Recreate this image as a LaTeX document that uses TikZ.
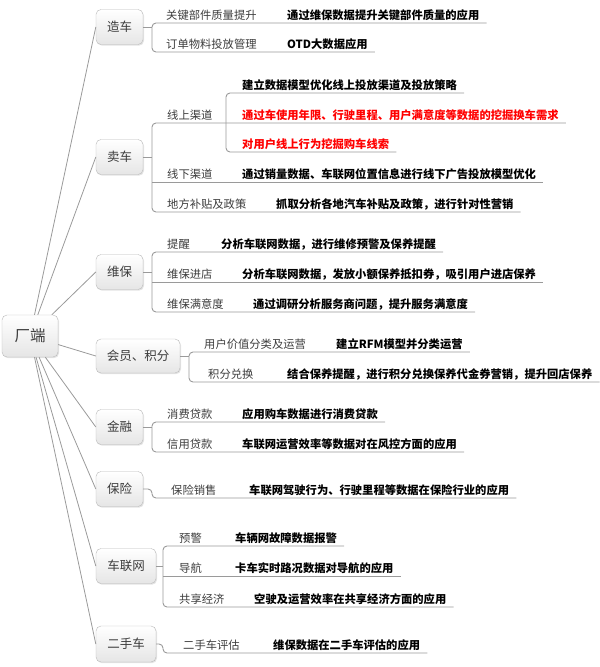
\documentclass[tikz,border=0pt]{standalone}
\usepackage{fontspec}
\setmainfont{Noto Sans CJK SC}
\usetikzlibrary{shadows,calc}
\definecolor{linec}{HTML}{9A9A9A}
\definecolor{labc}{HTML}{3C3C3C}
\definecolor{redc}{HTML}{FF0000}
\begin{document}
\begin{tikzpicture}[x=1pt,y=-1pt,
  topic/.style={draw=gray!55, rounded corners=5pt, top color=white, bottom color=gray!20,
    drop shadow={opacity=0.22,shadow xshift=1pt,shadow yshift=-1.2pt},
    text=labc, font=\fontsize{12.5}{14}\selectfont, inner sep=0pt},
  lab/.style={anchor=west, inner sep=0pt, text=labc, font=\fontsize{11.3}{13}\selectfont, text height=9.7pt, text depth=1.3pt},
  leaf/.style={anchor=west, inner sep=0pt, text=black, font=\fontsize{11.3}{13}\selectfont\bfseries, text height=9.7pt, text depth=1.3pt},
  hot/.style={leaf, text=redc},
  conn/.style={draw=linec, line width=0.8pt},
  ul/.style={draw=linec, line width=0.9pt, rounded corners=4pt},
]
\useasboundingbox (0,0) rectangle (600,667);

% root and main topics
\node[topic, minimum width=56pt, minimum height=42pt, font=\fontsize{15.5}{17}\selectfont] (root) at (30,336) {厂端};
\node[topic, minimum width=47pt, minimum height=35pt] (zc) at (119.5,27) {造车};
\node[topic, minimum width=47pt, minimum height=35pt] (mc) at (119.5,157) {卖车};
\node[topic, minimum width=47pt, minimum height=35pt] (wb) at (119.5,272) {维保};
\node[topic, minimum width=84pt, minimum height=34pt] (hy) at (138,356) {会员、积分};
\node[topic, minimum width=47pt, minimum height=35pt] (jr) at (119.5,427) {金融};
\node[topic, minimum width=47pt, minimum height=35pt] (bx) at (119.5,489) {保险};
\node[topic, minimum width=60pt, minimum height=35pt] (cl) at (126,566) {车联网};
\node[topic, minimum width=60pt, minimum height=36pt] (es) at (126,644) {二手车};

\foreach \t in {zc,mc,wb,hy,jr,bx,cl,es} \draw[conn] (root) -- (\t.west);

% 造车
\node[lab] (l11) at (166,15) {关键部件质量提升};
\node[leaf] (f11) at (287,15) {通过维保数据提升关键部件质量的应用};
\node[lab] (l12) at (166,44) {订单物料投放管理};
\node[leaf] (f12) at (287,44) {OTD大数据应用};
\draw[conn] (zc.east) -- (152,27);
\draw[ul] ($(f11.east)+(7,8)$) -- (152,23) -- (152,52) -- ($(f12.east)+(7,8)$);

% 卖车
\node[lab] (l21) at (167,115) {线上渠道};
\node[leaf] (f2a) at (242,85) {建立数据模型优化线上投放渠道及投放策略};
\node[hot] (f2b) at (242,115) {通过车使用年限、行驶里程、用户满意度等数据的挖掘换车需求};
\node[hot] (f2c) at (242,144) {对用户线上行为挖掘购车线索};
\node[lab] (l22) at (167,174) {线下渠道};
\node[leaf] (f22) at (242,174) {通过销量数据、车联网位置信息进行线下广告投放模型优化};
\node[lab] (l23) at (167,204) {地方补贴及政策};
\node[leaf] (f23) at (276,204) {抓取分析各地汽车补贴及政策，进行针对性营销};
\draw[conn] (mc.east) -- (152,157);
\draw[ul] ($(f23.east)+(7,8)$) -- (152,212) -- (152,123) -- ($(f2b.east)+(7,8)$);
\draw[ul] (152,182) -- ($(f22.east)+(7,8)$);
\draw[ul] ($(f2a.east)+(7,8)$) -- (226,93) -- (226,152) -- ($(f2c.east)+(7,8)$);

% 维保
\node[lab] (l31) at (167,244) {提醒};
\node[leaf] (f31) at (221,244) {分析车联网数据，进行维修预警及保养提醒};
\node[lab] (l32) at (167,274) {维保进店};
\node[leaf] (f32) at (242,274) {分析车联网数据，发放小额保养抵扣券，吸引用户进店保养};
\node[lab] (l33) at (167,304) {维保满意度};
\node[leaf] (f33) at (253,304) {通过调研分析服务商问题，提升服务满意度};
\draw[conn] (wb.east) -- (152,272);
\draw[ul] ($(f31.east)+(7,8)$) -- (152,252) -- (152,312) -- ($(f33.east)+(7,8)$);
\draw[ul] (152,282) -- ($(f32.east)+(7,8)$);

% 会员、积分
\node[lab] (l41) at (204,344) {用户价值分类及运营};
\node[leaf] (f41) at (336,344) {建立RFM模型并分类运营};
\node[lab] (l42) at (208,374) {积分兑换};
\node[leaf] (f42) at (287,374) {结合保养提醒，进行积分兑换保养代金券营销，提升回店保养};
\draw[conn] (hy.east) -- (189,356);
\draw[ul] ($(f41.east)+(7,8)$) -- (189,352) -- (189,382) -- ($(f42.east)+(7,8)$);

% 金融
\node[lab] (l51) at (167,414) {消费贷款};
\node[leaf] (f51) at (242,414) {应用购车数据进行消费贷款};
\node[lab] (l52) at (167,444) {信用贷款};
\node[leaf] (f52) at (242,444) {车联网运营效率等数据对在风控方面的应用};
\draw[conn] (jr.east) -- (152,427);
\draw[ul] ($(f51.east)+(7,8)$) -- (152,422) -- (152,452) -- ($(f52.east)+(7,8)$);

% 保险
\node[lab] (l61) at (171,490) {保险销售};
\node[leaf] (f61) at (249,490) {车联网驾驶行为、行驶里程等数据在保险行业的应用};
\draw[ul] (bx.east) -- (152,489) -- (152,498) -- ($(f61.east)+(7,8)$);

% 车联网
\node[lab] (l71) at (179,538) {预警};
\node[leaf] (f71) at (235,538) {车辆网故障数据报警};
\node[lab] (l72) at (179,568) {导航};
\node[leaf] (f72) at (235,568) {卡车实时路况数据对导航的应用};
\node[lab] (l73) at (179,599) {共享经济};
\node[leaf] (f73) at (254,599) {空驶及运营效率在共享经济方面的应用};
\draw[conn] (cl.east) -- (163,566);
\draw[ul] ($(f71.east)+(7,8)$) -- (163,546) -- (163,607) -- ($(f73.east)+(7,8)$);
\draw[ul] (163,576) -- ($(f72.east)+(7,8)$);

% 二手车
\node[lab] (l81) at (183,645) {二手车评估};
\node[leaf] (f81) at (273,645) {维保数据在二手车评估的应用};
\draw[ul] (es.east) -- (163,644) -- (163,653) -- ($(f81.east)+(7,8)$);
\end{tikzpicture}
\end{document}
